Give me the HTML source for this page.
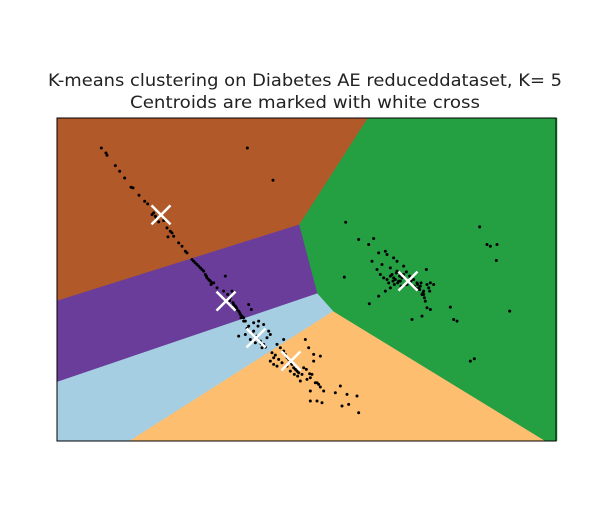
<!DOCTYPE html>
<html><head><meta charset="utf-8"><style>
html,body{margin:0;padding:0;background:#fff;}
svg{display:block;font-family:"DejaVu Sans","Liberation Sans",sans-serif;}
</style></head><body>
<svg id="chart" width="616" height="509" viewBox="0 0 616 509">
<text x="305" y="86" font-size="16.5" text-anchor="middle" fill="#222" textLength="514" lengthAdjust="spacingAndGlyphs">K-means clustering on Diabetes AE reduceddataset, K= 5</text>
<text x="305" y="108" font-size="16.5" text-anchor="middle" fill="#222" textLength="350" lengthAdjust="spacingAndGlyphs">Centroids are marked with white cross</text>
<g id="regions"></g>
<g id="points"></g>
<g id="cents"></g>
<rect x="57" y="118" width="499" height="323" fill="none" stroke="#000" stroke-width="1"/>
</svg>
<script>
const centX=[2.08,3.38,3.98,4.68,7.02];
const centY=[7.0,4.33,3.19,2.48,4.95];
const clusterColors=["#b15928","#6a3d9a","#a6cee3","#fdbf6f","#249f42"];
// points in zoom-derived units (x*150, (10-y)*97)
const ptZX=[133,147,150,175,188,203,222,228,246,263,272,290,298,320,330,345,350,333,365,375,385,390,571,648,285,295,305,340,
410,420,440,450,460,470,480,500,505,525,530,540,550,560,575,583,415,430,445,455,465,520,535,545,555,405,425,435,448,458,462,512,518,528,538,548,552,565,
560,575,590,600,610,620,605,620,635,545,565,580,595,615,630,570,585,600,612,625,640,590,603,
660,680,690,700,710,720,650,640,660,745,755,770,790,760,775,740,765,760,780,795,835,850,870,900,855,875,905,760,800,670,685,695,705,715,725,735,750,645,655,665,675,690,700,712,722,730,748,758,780,785,790,770,650,680,
866,905,935,950,965,985,990,1010,945,975,1000,1020,1010,1030,1040,1050,1070,1080,1090,1100,1110,1120,1130,995,1000,970,965,985,1105,1110,1120,1095,1065,862,937,1180,1190,1200,1268,1290,1300,1320,1318,1358,1240,1252,1108,1020,1040,1000,1015,1025,1035,1060,1085,1095,1012,1045,990,1005,1018,1028,1038,1048,1058,1075,1088,1098,1102,1115,1008,1022,1032,1062,1072,1082,1092,1100,980,960,1118];
const ptZY=[90,105,112,143,160,180,208,210,232,250,258,285,300,308,330,345,355,357,375,385,400,405,90,187,290,295,312,340,
430,440,460,480,490,495,510,520,475,520,560,575,590,600,560,575,435,450,470,485,495,540,565,580,595,425,445,455,475,488,500,530,548,555,570,585,600,610,
610,625,640,655,670,680,610,620,640,655,650,665,675,690,660,632,648,662,678,688,650,615,625,
680,700,720,735,750,760,720,730,745,665,690,710,715,780,795,750,770,820,850,855,825,805,830,835,865,860,885,850,820,690,710,725,740,755,765,770,785,705,712,725,735,745,760,770,775,790,755,768,795,800,808,730,740,665,
313,365,380,362,405,400,410,420,430,440,450,460,480,490,470,500,485,495,505,520,500,495,500,495,510,470,535,520,550,570,575,595,605,478,558,568,605,610,327,380,385,380,428,580,730,723,455,430,445,475,485,490,480,478,510,530,500,500,485,470,465,475,470,462,475,510,515,525,540,510,490,495,505,490,505,500,495,530,480,455,520];
const xs=v=>57+v*50, ys=v=>441-v*32.3;
const NS="http://www.w3.org/2000/svg";
function clip(poly,a,b,c){
  const out=[];
  for(let i=0;i<poly.length;i++){
    const p=poly[i],q=poly[(i+1)%poly.length];
    const fp=a*p[0]+b*p[1]-c, fq=a*q[0]+b*q[1]-c;
    if(fp<=0) out.push(p);
    if((fp<0&&fq>0)||(fp>0&&fq<0)){const t=fp/(fp-fq);out.push([p[0]+t*(q[0]-p[0]),p[1]+t*(q[1]-p[1])]);}
  }
  return out;
}
const reg=document.getElementById('regions');
for(let i=0;i<centX.length;i++){
  let poly=[[0,0],[10,0],[10,10],[0,10]];
  for(let j=0;j<centX.length;j++){ if(i===j) continue;
    const a=centX[j]-centX[i], b=centY[j]-centY[i];
    const c=(centX[j]*centX[j]+centY[j]*centY[j]-centX[i]*centX[i]-centY[i]*centY[i])/2;
    poly=clip(poly,a,b,c);
  }
  const el=document.createElementNS(NS,'polygon');
  el.setAttribute('points',poly.map(p=>xs(p[0]).toFixed(2)+','+ys(p[1]).toFixed(2)).join(' '));
  el.setAttribute('fill',clusterColors[i]);
  el.setAttribute('stroke',clusterColors[i]);
  el.setAttribute('stroke-width','0.5');
  
  
  reg.appendChild(el);
}
const pg=document.getElementById('points');
for(let i=0;i<ptZX.length;i++){
  const c=document.createElementNS(NS,'circle');
  c.setAttribute('cx',xs(ptZX[i]/150).toFixed(2));
  c.setAttribute('cy',ys(10-ptZY[i]/97).toFixed(2));
  c.setAttribute('r','1.5');
  c.setAttribute('fill','#000');
  
  
  pg.appendChild(c);
}
const cg=document.getElementById('cents');
for(let i=0;i<centX.length;i++){
  const cx=xs(centX[i]), cy=ys(centY[i]), s=9.5;
  const p=document.createElementNS(NS,'path');
  p.setAttribute('d',`M${cx-s},${cy-s}L${cx+s},${cy+s}M${cx-s},${cy+s}L${cx+s},${cy-s}`);
  p.setAttribute('stroke','#fff');
  p.setAttribute('stroke-width','2.5');
  
  
  cg.appendChild(p);
}
</script>
</body></html>
